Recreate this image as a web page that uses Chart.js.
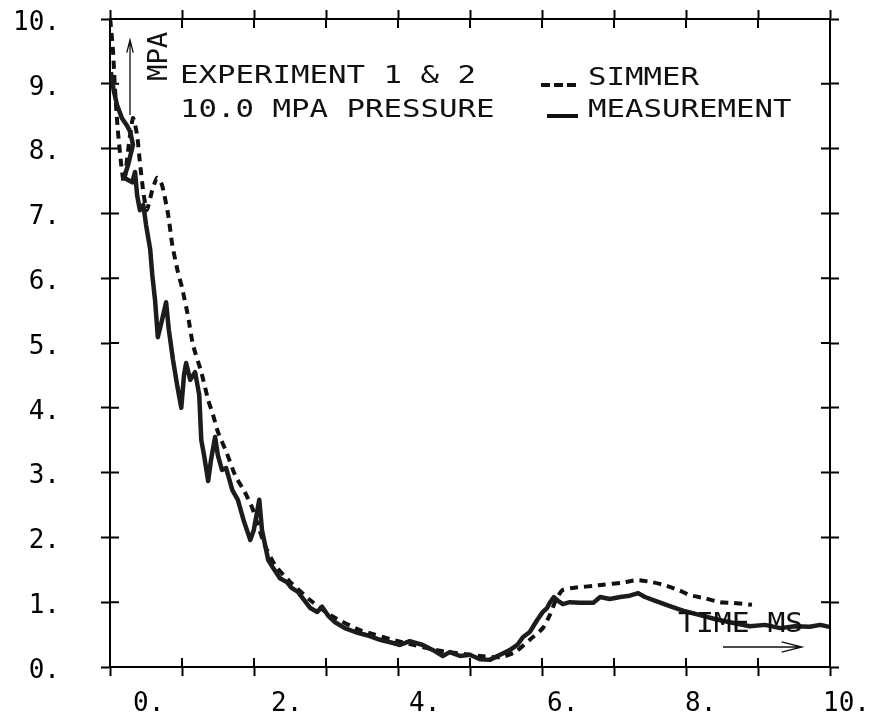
<!DOCTYPE html>
<html>
<head>
<meta charset="utf-8">
<script src="https://cdn.jsdelivr.net/npm/chart.js@4/dist/chart.umd.min.js"></script>
<style>
  body { margin: 0; background: #fff; }
  #caixa { width: 874px; height: 713px; }
</style>
</head>
<body>
<div id="caixa"><canvas id="grafico"></canvas></div>
<script>
const tempoSimmer = [-0.33, -0.29, -0.26, -0.22, -0.17, -0.13, -0.07, 0.0, 0.06, 0.10, 0.15, 0.20, 0.28, 0.35, 0.42,
  0.51, 0.57, 0.65, 0.71, 0.80, 0.87, 0.99, 1.09, 1.16, 1.23, 1.36, 1.48, 1.62, 1.73, 1.81, 1.91, 2.06, 2.28,
  2.57, 2.86, 3.29, 3.87, 4.45, 5.03, 5.32, 5.54, 5.75, 5.94, 6.04, 6.14, 6.23, 6.45, 6.67, 6.81, 7.09, 7.30,
  7.52, 7.68, 7.90, 8.07, 8.29, 8.51, 8.70, 8.97];
const pressaoSimmer = [10.0, 9.52, 8.90, 8.29, 7.75, 7.47, 7.98, 8.47, 8.21, 7.79, 7.33, 7.05, 7.36, 7.55, 7.44,
  6.98, 6.51, 6.10, 5.86, 5.40, 4.97, 4.55, 4.12, 3.89, 3.63, 3.30, 2.96, 2.70, 2.45, 2.19, 1.88, 1.57, 1.31,
  1.03, 0.80, 0.57, 0.39, 0.25, 0.17, 0.15, 0.23, 0.42, 0.60, 0.80, 1.06, 1.19, 1.23, 1.25, 1.27, 1.30, 1.34,
  1.31, 1.27, 1.19, 1.11, 1.06, 1.00, 0.99, 0.96];

const tempoMedida = [-0.32, -0.28, -0.23, -0.16, -0.09, -0.04, 0.0, -0.07, -0.13, -0.01, 0.03, 0.06, 0.10, 0.15,
  0.19, 0.25, 0.28, 0.32, 0.36, 0.42, 0.48, 0.52, 0.58, 0.64, 0.70, 0.74, 0.77, 0.83, 0.90, 0.96, 0.99, 1.03,
  1.09, 1.13, 1.19, 1.23, 1.29, 1.35, 1.44, 1.52, 1.61, 1.70, 1.75, 1.83, 1.87, 1.96, 2.03, 2.13, 2.23, 2.30,
  2.39, 2.49, 2.57, 2.67, 2.74, 2.83, 2.93, 3.07, 3.22, 3.39, 3.58, 3.77, 3.87, 4.01, 4.20, 4.35, 4.49, 4.59,
  4.74, 4.88, 5.03, 5.17, 5.32, 5.46, 5.57, 5.65, 5.75, 5.86, 5.94, 6.00, 6.04, 6.10, 6.16, 6.23, 6.33, 6.48,
  6.67, 6.77, 6.91, 7.06, 7.20, 7.32, 7.42, 7.57, 7.78, 8.00, 8.22, 8.43, 8.65, 8.94, 9.16, 9.38, 9.59, 9.81,
  9.96, 10.09];
const pressaoMedida = [9.18, 8.90, 8.67, 8.47, 8.36, 8.26, 8.06, 7.75, 7.55, 7.48, 7.64, 7.28, 7.05, 7.13,
  6.82, 6.44, 6.05, 5.66, 5.09, 5.35, 5.63, 5.20, 4.74, 4.35, 4.00, 4.51, 4.69, 4.43, 4.55, 4.20, 3.50, 3.27,
  2.87, 3.19, 3.55, 3.27, 3.04, 3.07, 2.73, 2.58, 2.24, 1.96, 2.11, 2.58, 2.11, 1.65, 1.53, 1.37, 1.31, 1.22,
  1.16, 1.02, 0.91, 0.85, 0.93, 0.79, 0.69, 0.60, 0.54, 0.49, 0.42, 0.37, 0.34, 0.40, 0.34, 0.26, 0.17, 0.23,
  0.17, 0.19, 0.12, 0.11, 0.19, 0.26, 0.34, 0.46, 0.54, 0.73, 0.85, 0.91, 0.99, 1.08, 1.02, 0.97, 1.00, 0.99,
  0.99, 1.08, 1.05, 1.08, 1.10, 1.14, 1.08, 1.02, 0.94, 0.86, 0.80, 0.74, 0.69, 0.63, 0.65, 0.60, 0.63, 0.62,
  0.65, 0.62];

const rotulosTempo = [0, 2, 4, 6, 8, 10];
const tempoMin = -0.333;
const tempoMax = 10.101;

const fonteEixo = { family: "DejaVu Sans Mono", size: 26 };

function pontos(xs, ys) {
  return xs.map((x, i) => ({ x: x, y: ys[i] }));
}

function texto(ctx, s, x, y, tam, esticar) {
  ctx.save();
  ctx.translate(x, y);
  ctx.scale(esticar, 1);
  ctx.font = `${tam}px "DejaVu Sans Mono"`;
  ctx.textBaseline = "alphabetic";
  ctx.fillText(s, 0, 0);
  ctx.restore();
}

function seta(ctx, x1, y1, x2, y2, ponta) {
  const ang = Math.atan2(y2 - y1, x2 - x1);
  ctx.beginPath();
  ctx.moveTo(x1, y1);
  ctx.lineTo(x2, y2);
  ctx.moveTo(x2 - ponta * Math.cos(ang - 0.25), y2 - ponta * Math.sin(ang - 0.25));
  ctx.lineTo(x2, y2);
  ctx.lineTo(x2 - ponta * Math.cos(ang + 0.25), y2 - ponta * Math.sin(ang + 0.25));
  ctx.stroke();
}

// parte de dentro dos tracinhos (a de fora vem do tickLength das escalas)
const tracinhos = {
  id: "tracinhos",
  beforeDatasetsDraw(chart) {
    const { ctx, chartArea: a, scales } = chart;
    ctx.save();
    ctx.strokeStyle = "#000";
    ctx.lineWidth = 2;
    ctx.beginPath();
    scales.xt.ticks.forEach((t, i) => {
      const px = scales.xt.getPixelForTick(i);
      ctx.moveTo(px, a.top);
      ctx.lineTo(px, a.top + 9);
      ctx.moveTo(px, a.bottom);
      ctx.lineTo(px, a.bottom - 9);
    });
    scales.y.ticks.forEach((t, i) => {
      const py = scales.y.getPixelForTick(i);
      ctx.moveTo(a.left, py);
      ctx.lineTo(a.left + 9, py);
      ctx.moveTo(a.right, py);
      ctx.lineTo(a.right - 9, py);
    });
    ctx.stroke();
    ctx.restore();
  }
};

const anotacoes = {
  id: "anotacoes",
  afterDraw(chart) {
    const { ctx, chartArea: a } = chart;
    ctx.save();
    ctx.fillStyle = "#111";
    ctx.strokeStyle = "#111";

    texto(ctx, "EXPERIMENT 1 & 2", a.left + 70, a.top + 64, 24, 1.28);
    texto(ctx, "10.0 MPA PRESSURE", a.left + 70, a.top + 98, 24, 1.28);
    texto(ctx, "SIMMER", a.left + 478, a.top + 66, 24, 1.28);
    texto(ctx, "MEASUREMENT", a.left + 478, a.top + 98, 24, 1.28);

    ctx.lineWidth = 4;
    ctx.setLineDash([9, 4]);
    ctx.beginPath();
    ctx.moveTo(a.left + 431, a.top + 66);
    ctx.lineTo(a.left + 468, a.top + 66);
    ctx.stroke();
    ctx.setLineDash([]);
    ctx.beginPath();
    ctx.moveTo(a.left + 437, a.top + 97);
    ctx.lineTo(a.left + 468, a.top + 97);
    ctx.stroke();

    // MPA vertical com seta
    ctx.save();
    ctx.translate(a.left + 57, a.top + 62);
    ctx.rotate(-Math.PI / 2);
    texto(ctx, "MPA", 0, 0, 26, 1.05);
    ctx.restore();
    ctx.lineWidth = 1.3;
    seta(ctx, a.left + 20, a.top + 96, a.left + 20, a.top + 21, 13);

    // TIME MS com seta
    texto(ctx, "TIME MS", a.right - 152, a.bottom - 35, 27, 1.1);
    seta(ctx, a.right - 107, a.bottom - 20, a.right - 28, a.bottom - 20, 21);

    ctx.restore();
  }
};

new Chart(document.getElementById("grafico"), {
  type: "line",
  data: {
    datasets: [
      {
        label: "MEASUREMENT",
        data: pontos(tempoMedida, pressaoMedida),
        xAxisID: "x",
        yAxisID: "y",
        borderColor: "#1c1c1c",
        borderWidth: 4.5,
        pointRadius: 0,
        tension: 0,
        borderJoinStyle: "round"
      },
      {
        label: "SIMMER",
        data: pontos(tempoSimmer, pressaoSimmer),
        xAxisID: "x",
        yAxisID: "y",
        borderColor: "#111",
        borderWidth: 4,
        borderDash: [8, 6],
        pointRadius: 0,
        tension: 0.2
      }
    ]
  },
  options: {
    responsive: true,
    maintainAspectRatio: false,
    animation: false,
    layout: { padding: { top: 10, right: 35, bottom: 0, left: 0 } },
    plugins: {
      legend: { display: false },
      tooltip: { enabled: false }
    },
    scales: {
      xt: {
        type: "linear",
        position: "bottom",
        weight: 0,
        min: 0,
        max: 10,
        ticks: { display: false, stepSize: 1 },
        grid: { drawOnChartArea: false, tickLength: 9, tickColor: "#000", tickWidth: 2 },
        border: { display: true, color: "#000", width: 2 }
      },
      x: {
        type: "linear",
        position: "bottom",
        weight: 1,
        min: tempoMin,
        max: tempoMax,
        afterBuildTicks: (s) => { s.ticks = rotulosTempo.map(v => ({ value: v })); },
        afterFit: (s) => { s.height = 37; s.paddingLeft = 0; s.paddingRight = 0; },
        ticks: {
          font: fonteEixo,
          color: "#000",
          align: "start",
          padding: 5,
          autoSkip: false,
          maxRotation: 0,
          callback: (v) => `${v}.`
        },
        grid: { display: false },
        border: { display: false }
      },
      xTopo: {
        type: "linear",
        position: "top",
        min: 0,
        max: 10,
        ticks: { display: false, stepSize: 1 },
        grid: { drawOnChartArea: false, tickLength: 9, tickColor: "#000", tickWidth: 2 },
        border: { display: true, color: "#000", width: 2 }
      },
      y: {
        type: "linear",
        position: "left",
        min: 0,
        max: 10,
        afterFit: (s) => { s.width = 110; s.paddingTop = 0; s.paddingBottom = 0; },
        ticks: {
          stepSize: 1,
          font: fonteEixo,
          color: "#000",
          padding: 41,
          labelOffset: 4,
          callback: (v) => `${v}.`
        },
        grid: { drawOnChartArea: false, tickLength: 9, tickColor: "#000", tickWidth: 2 },
        border: { display: true, color: "#000", width: 2 }
      },
      yDir: {
        type: "linear",
        position: "right",
        min: 0,
        max: 10,
        ticks: { display: false, stepSize: 1 },
        grid: { drawOnChartArea: false, tickLength: 9, tickColor: "#000", tickWidth: 2 },
        border: { display: true, color: "#000", width: 2 }
      }
    }
  },
  plugins: [tracinhos, anotacoes]
});
</script>
</body>
</html>
